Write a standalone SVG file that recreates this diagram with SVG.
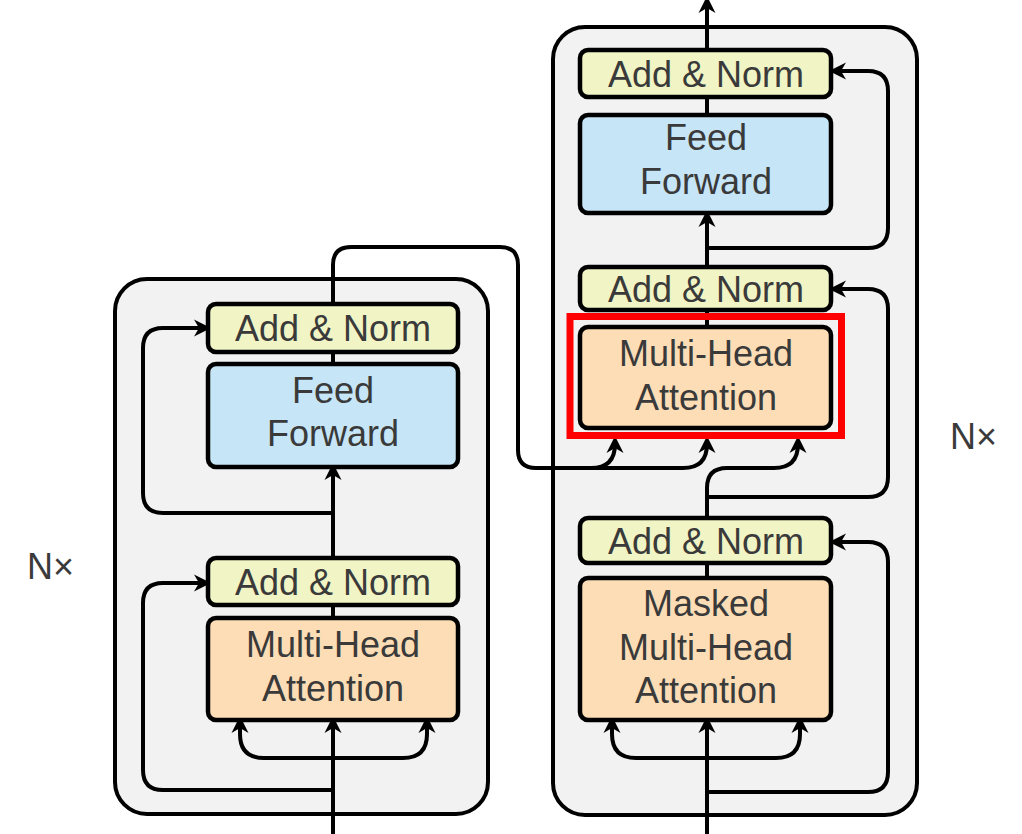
<svg xmlns="http://www.w3.org/2000/svg" width="1022" height="834" viewBox="0 0 1022 834">
<defs>
<marker id="ah" viewBox="-19 -9 20 18" markerWidth="20" markerHeight="18" refX="-5" refY="0" orient="auto" markerUnits="userSpaceOnUse">
<path d="M0,0 L-17,-8.5 L-12,0 L-17,8.5 Z" fill="#000"/>
</marker>
<style>
.outer{fill:#f2f2f2;stroke:#000;stroke-width:4}
.an{fill:#f1f4c4;stroke:#000;stroke-width:4.5}
.ff{fill:#c6e5f6;stroke:#000;stroke-width:4.5}
.mha{fill:#fcddb6;stroke:#000;stroke-width:4.5}
.t{font-family:"Liberation Sans",Arial,sans-serif;font-size:36px;fill:#3a3a3a;text-anchor:middle}
.w{fill:none;stroke:#000;stroke-width:4;stroke-linejoin:round}
.a{fill:none;stroke:#000;stroke-width:4;stroke-linejoin:round;marker-end:url(#ah)}
</style>
</defs>
<rect width="1022" height="834" fill="#fff"/>
<g id="encoder-block"><rect class="outer" x="115" y="279" width="373" height="535" rx="32"/></g>
<g id="decoder-block"><rect class="outer" x="553" y="27" width="364" height="788" rx="32"/></g>
<g id="connectors">
<path class="a" d="M333,834 V721"/>
<path class="a" d="M333,758 H264 Q240,758 240,734 V721"/>
<path class="a" d="M333,758 H403 Q427,758 427,734 V721"/>
<path class="a" d="M333,790 H163 Q143,790 143,770 V603 Q143,583 163,583 H206"/>
<path class="w" d="M333,618 V605"/>
<path class="a" d="M333,558 V468"/>
<path class="a" d="M333,513 H163 Q143,513 143,493 V348 Q143,328 163,328 H206"/>
<path class="w" d="M333,364 V352"/>
<path class="w" d="M333,304 V265 Q333,247 351,247 H500 Q518,247 518,265 V450 Q518,468 536,468 H595"/>
<path class="a" d="M591,468 Q615,468 615,444 V441"/>
<path class="a" d="M590,468 H683 Q707,468 707,444 V441"/>
<path class="a" d="M707,834 V721"/>
<path class="a" d="M707,758 H636 Q612,758 612,734 V721"/>
<path class="a" d="M707,758 H776 Q800,758 800,734 V721"/>
<path class="a" d="M707,792 H868 Q888,792 888,772 V562 Q888,542 868,542 H834"/>
<path class="w" d="M707,578 V563"/>
<path class="a" d="M707,518 V488 Q707,468 727,468 H774 Q798,468 798,444 V441"/>
<path class="a" d="M707,497 H868 Q888,497 888,477 V309 Q888,289 868,289 H834"/>
<path class="w" d="M707,327 V310"/>
<path class="a" d="M707,267 V215"/>
<path class="a" d="M707,248 H868 Q888,248 888,228 V91 Q888,71 868,71 H834"/>
<path class="w" d="M707,115 V97"/>
<path class="a" d="M707,50 V1"/>
</g>
<g id="enc-addnorm2"><rect class="an" x="208" y="304" width="250" height="48" rx="8"/><text class="t" x="333" y="341">Add &amp; Norm</text></g>
<g id="enc-ff"><rect class="ff" x="208" y="364" width="250" height="103" rx="8"/><text class="t" x="333" y="403">Feed</text><text class="t" x="333" y="446">Forward</text></g>
<g id="enc-addnorm1"><rect class="an" x="208" y="558" width="250" height="47" rx="8"/><text class="t" x="333" y="595">Add &amp; Norm</text></g>
<g id="enc-mha"><rect class="mha" x="208" y="618" width="250" height="102" rx="8"/><text class="t" x="333" y="657">Multi-Head</text><text class="t" x="333" y="701">Attention</text></g>
<g id="dec-addnorm3"><rect class="an" x="580" y="50" width="251" height="47" rx="8"/><text class="t" x="706" y="87">Add &amp; Norm</text></g>
<g id="dec-ff"><rect class="ff" x="580" y="115" width="251" height="98" rx="8"/><text class="t" x="706" y="150">Feed</text><text class="t" x="706" y="194">Forward</text></g>
<g id="dec-addnorm2"><rect class="an" x="580" y="267" width="251" height="43" rx="8"/><text class="t" x="706" y="302">Add &amp; Norm</text></g>
<g id="dec-mha"><rect class="mha" x="580" y="327" width="251" height="101" rx="8"/><text class="t" x="706" y="366">Multi-Head</text><text class="t" x="706" y="410">Attention</text></g>
<g id="highlight"><rect x="570" y="316.5" width="271.5" height="119" fill="none" stroke="#f00" stroke-width="7"/></g>
<g id="dec-addnorm1"><rect class="an" x="580" y="518" width="251" height="45" rx="8"/><text class="t" x="706" y="554">Add &amp; Norm</text></g>
<g id="dec-masked-mha"><rect class="mha" x="580" y="578" width="251" height="142" rx="8"/><text class="t" x="706" y="616">Masked</text><text class="t" x="706" y="660">Multi-Head</text><text class="t" x="706" y="703">Attention</text></g>
<g id="nx-left"><text x="27" y="579" style="font-family:'Liberation Sans',Arial,sans-serif;font-size:36px;fill:#3a3a3a">N×</text></g>
<g id="nx-right"><text x="950" y="449" style="font-family:'Liberation Sans',Arial,sans-serif;font-size:36px;fill:#3a3a3a">N×</text></g>
</svg>
